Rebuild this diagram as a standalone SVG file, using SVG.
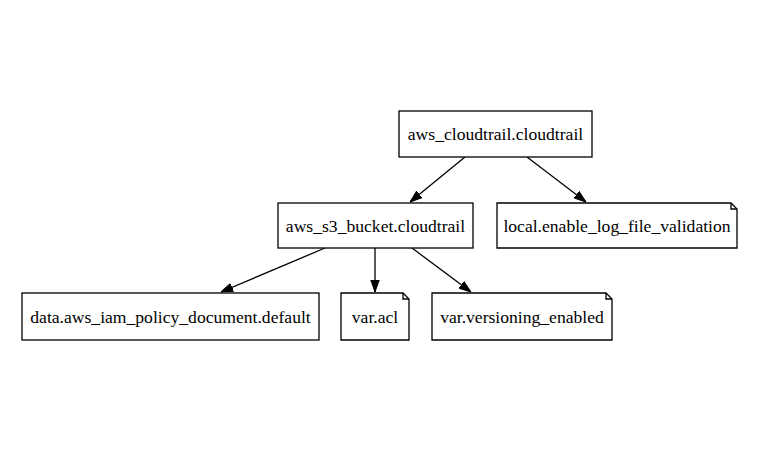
<svg xmlns="http://www.w3.org/2000/svg" width="768" height="457" viewBox="0 0 768 457">
<style>
.box{fill:#fff;stroke:#000;stroke-width:1.3}
.fold{fill:none;stroke:#000;stroke-width:1.3}
.lbl{font-family:"Liberation Serif","Times New Roman",serif;font-size:17.6px;fill:#000;text-anchor:middle}
.edge{stroke:#000;stroke-width:1.3;fill:none}
</style>
<defs>
<marker id="arr" viewBox="0 0 12 10" refX="12" refY="5" markerWidth="12" markerHeight="10" markerUnits="userSpaceOnUse" orient="auto">
<path d="M0,0.8 L12,5 L0,9.2 Z" fill="#000" stroke="#000"/>
</marker>
</defs>
<rect width="768" height="457" fill="#fff"/>
<g id="edges">
<line class="edge" x1="465" y1="157" x2="410" y2="202" marker-end="url(#arr)"/>
<line class="edge" x1="527" y1="157" x2="586" y2="202" marker-end="url(#arr)"/>
<line class="edge" x1="325" y1="248" x2="221" y2="292" marker-end="url(#arr)"/>
<line class="edge" x1="375" y1="248" x2="375" y2="292" marker-end="url(#arr)"/>
<line class="edge" x1="412" y1="248" x2="471" y2="292" marker-end="url(#arr)"/>
</g>
<g id="n_cloudtrail">
<rect class="box" x="399" y="111" width="193" height="46"/>
<text class="lbl" x="495.5" y="140">aws_cloudtrail.cloudtrail</text>
</g>
<g id="n_s3">
<rect class="box" x="278" y="203" width="195" height="45"/>
<text class="lbl" x="375.5" y="231.5">aws_s3_bucket.cloudtrail</text>
</g>
<g id="n_local">
<path class="box" d="M497,203 H731 L737,209 V248 H497 Z"/>
<path class="fold" d="M731,203 V209 H737"/>
<text class="lbl" x="617" y="231.5">local.enable_log_file_validation</text>
</g>
<g id="n_data">
<rect class="box" x="22" y="293" width="297" height="47"/>
<text class="lbl" x="170.5" y="322.5">data.aws_iam_policy_document.default</text>
</g>
<g id="n_acl">
<path class="box" d="M341,293 H403 L409,299 V340 H341 Z"/>
<path class="fold" d="M403,293 V299 H409"/>
<text class="lbl" x="375" y="322.5">var.acl</text>
</g>
<g id="n_versioning">
<path class="box" d="M432,293 H606 L612,299 V340 H432 Z"/>
<path class="fold" d="M606,293 V299 H612"/>
<text class="lbl" x="522" y="322.5">var.versioning_enabled</text>
</g>
</svg>
